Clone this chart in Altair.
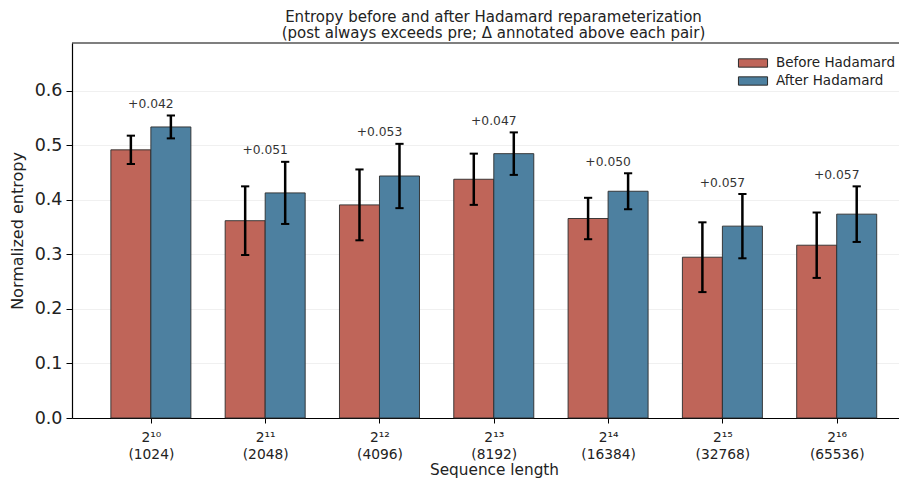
import json
import altair as alt
import pandas as pd

# ---- data ----
exps = ["2¹⁰", "2¹¹", "2¹²", "2¹³", "2¹⁴", "2¹⁵", "2¹⁶"]
lengths = ["(1024)", "(2048)", "(4096)", "(8192)", "(16384)", "(32768)", "(65536)"]
before = [0.492, 0.362, 0.391, 0.438, 0.366, 0.295, 0.317]
before_err = [0.026, 0.063, 0.065, 0.047, 0.038, 0.064, 0.060]
after = [0.534, 0.413, 0.444, 0.485, 0.416, 0.352, 0.374]
after_err = [0.021, 0.057, 0.059, 0.039, 0.033, 0.059, 0.051]
series_names = ["Before Hadamard", "After Hadamard"]
colors = ["#bf6559", "#4d80a0"]

rows = []
for i in range(len(exps)):
    rows.append({"i": i, "series": series_names[0], "value": before[i], "err": before_err[i]})
    rows.append({"i": i, "series": series_names[1], "value": after[i], "err": after_err[i]})
df = pd.DataFrame(rows)

grp = pd.DataFrame({
    "i": list(range(len(exps))),
    "b": before, "be": before_err, "a": after, "ae": after_err,
})

W, H = 827, 375
xscale = alt.Scale(domain=[-0.69, 6.545], nice=False, zero=False)
yscale = alt.Scale(domain=[0, 0.688], nice=False, zero=False)

label_expr = json.dumps([[e, l] for e, l in zip(exps, lengths)], ensure_ascii=False) + "[datum.value]"

xaxis = alt.Axis(
    values=list(range(len(exps))), labelExpr=label_expr, grid=False,
    title="Sequence length", labelFontSize=13.8, labelLineHeight=17,
    labelColor="#222", tickSize=5, tickColor="#000", domainColor="#000",
    domainWidth=1.2, labelPadding=7, titleFontSize=15.3, titleFontWeight="normal",
    titleColor="#222", titlePadding=2, titleX=422,
)
yaxis = alt.Axis(
    values=[0, 0.1, 0.2, 0.3, 0.4, 0.5, 0.6], format=".1f", title="Normalized entropy",
    labelFontSize=17.5, labelColor="#222", tickSize=6, tickColor="#000",
    domainColor="#000", domainWidth=1.2, labelPadding=4, gridColor="#ececec",
    gridWidth=0.8, titleFontSize=16, titleFontWeight="normal", titleColor="#222",
    titlePadding=9,
)

is_before = "datum.series === 'Before Hadamard'"

bars = alt.Chart(df).transform_calculate(
    x0=f"datum.i + ({is_before} ? -0.35 : 0)",
    x1=f"datum.i + ({is_before} ? 0 : 0.35)",
).mark_bar(stroke="#2b2b2b", strokeWidth=1, strokeOpacity=0.9).encode(
    x=alt.X("x0:Q", scale=xscale, axis=xaxis),
    x2="x1:Q",
    y=alt.Y("value:Q", scale=yscale, axis=yaxis),
    y2=alt.datum(0),
    color=alt.Color(
        "series:N",
        scale=alt.Scale(domain=series_names, range=colors),
        sort=series_names,
        legend=alt.Legend(
            title=None, orient="none", legendX=670, legendY=9,
            symbolType="M-1.4,-0.4H1.4V0.4H-1.4Z", symbolSize=432,
            symbolStrokeColor="#2b2b2b", symbolStrokeWidth=1, symbolOpacity=1,
            labelFontSize=13.5, labelColor="#222", rowPadding=0, padding=0,
            labelOffset=12,
        ),
    ),
)

err_base = alt.Chart(df).transform_calculate(
    xc=f"datum.i + ({is_before} ? -0.175 : 0.175)",
    lo="datum.value - datum.err",
    hi="datum.value + datum.err",
)

err_rules = err_base.mark_rule(color="#000", strokeWidth=2.5).encode(
    x=alt.X("xc:Q", scale=xscale), y=alt.Y("lo:Q", scale=yscale), y2="hi:Q"
)

caps_lo = err_base.transform_calculate(
    c0="datum.xc - 0.036", c1="datum.xc + 0.036"
).mark_rule(color="#000", strokeWidth=2).encode(
    x=alt.X("c0:Q", scale=xscale), x2="c1:Q", y=alt.Y("lo:Q", scale=yscale)
)
caps_hi = err_base.transform_calculate(
    c0="datum.xc - 0.036", c1="datum.xc + 0.036"
).mark_rule(color="#000", strokeWidth=2).encode(
    x=alt.X("c0:Q", scale=xscale), x2="c1:Q", y=alt.Y("hi:Q", scale=yscale)
)

labels = alt.Chart(grp).transform_calculate(
    top="max(datum.b + datum.be, datum.a + datum.ae) + 0.008",
    delta="datum.a - datum.b",
).mark_text(baseline="bottom", fontSize=12.3, color="#333").encode(
    x=alt.X("i:Q", scale=xscale),
    y=alt.Y("top:Q", scale=yscale),
    text=alt.Text("delta:Q", format="+.3f"),
)

top_spine = alt.Chart(pd.DataFrame({"k": [0]})).mark_rule(color="#000", strokeWidth=1.2).encode(
    x=alt.value(0), x2=alt.value(W), y=alt.value(0)
)

chart = alt.layer(bars, err_rules, caps_lo, caps_hi, labels, top_spine).properties(
    width=W, height=H,
    title=alt.TitleParams(
        text=["Entropy before and after Hadamard reparameterization",
              "(post always exceeds pre; Δ annotated above each pair)"],
        fontSize=15, fontWeight="normal", color="#222", anchor="middle",
        lineHeight=16.5, offset=1, dx=8,
    ),
    autosize=alt.AutoSizeParams(type="none"),
    padding={"left": 64, "right": 0, "top": 35, "bottom": 60},
).configure(font="DejaVu Sans").configure_view(stroke=None)

chart.save("out.html", embed_options={"renderer": "svg", "actions": False})
